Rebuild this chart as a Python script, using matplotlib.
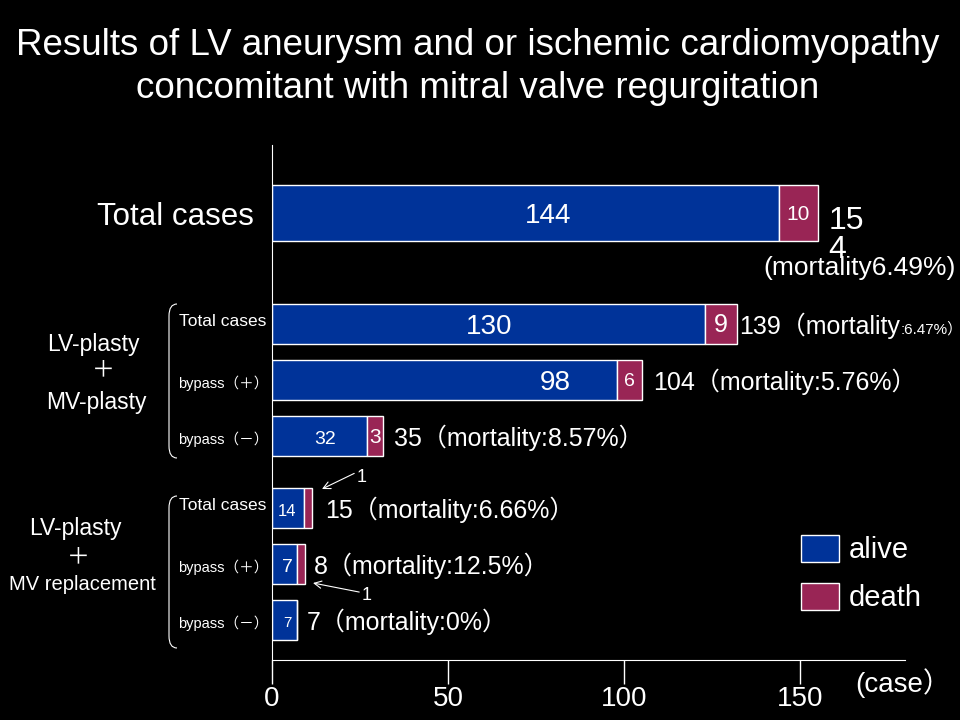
import numpy as np
import matplotlib.pyplot as plt
from matplotlib.transforms import Affine2D
from matplotlib.path import Path
from matplotlib.patches import PathPatch, Patch

plt.rcParams['font.family'] = ['Liberation Sans', 'Noto Sans CJK JP', 'DejaVu Sans']

# bar lengths as they are drawn in the picture (cases)
alive = [144, 123, 98, 27, 9, 7, 7]
death = [11, 9, 7, 4.5, 2.5, 2.5, 0]
# numbers written on the bars
alive_txt = ['144', '130', '98', '32', '14', '7', '7']
death_txt = ['10', '9', '6', '3', '', '', '']
# text on the right of each bar
right_txt = ['', '139（mortality', '104（mortality:5.76%）', '35（mortality:8.57%）',
             '15（mortality:6.66%）', '8（mortality:12.5%）', '7（mortality:0%）']
row_names = ['Total cases', 'Total cases', 'bypass（＋）', 'bypass（－）',
             'Total cases', 'bypass（＋）', 'bypass（－）']
x_ticks = [0, 50, 100, 150]

blue = '#003399'
red = '#992555'

# layout (image pixels)
row_y = [213, 324, 380, 436, 508, 564, 620]
row_h = [56, 40, 40, 40, 40, 40, 40]
alive_lab_x = [548, 489, 555, 325, 287, 287, 287]
alive_fs = [20, 20, 20, 14, 12, 14, 11]
death_fs = [15, 18, 14, 15, 10, 10, 10]
right_off = [8, 2, 8, 8, 9, 6, 7]

fig = plt.figure(figsize=(9.6, 7.2), dpi=100, facecolor='black')
px = Affine2D().scale(1, -1).translate(0, 720)  # image pixels -> display

ax = fig.add_axes([272/960, 60/720, 633/960, 515/720])
ax.set_facecolor('black')
ax.set_xlim(0, 633/3.52)
ax.set_ylim(660, 145)

ax.barh(row_y, alive, height=row_h, color=blue, edgecolor='white', linewidth=1)
ax.barh(row_y, death, left=alive, height=row_h, color=red, edgecolor='white', linewidth=1)

for i in range(len(row_y)):
    x_data = (alive_lab_x[i] - 272) / 3.52
    ax.text(x_data, row_y[i] + 3, alive_txt[i], color='white', fontsize=alive_fs[i],
            ha='center', va='center')
    if death_txt[i]:
        ax.text(alive[i] + death[i]/2, row_y[i] + 1, death_txt[i], color='white',
                fontsize=death_fs[i], ha='center', va='center')
    if right_txt[i]:
        t = ax.annotate(right_txt[i], xy=(alive[i] + death[i], row_y[i]),
                        xytext=(right_off[i], -1), textcoords='offset points',
                        color='white', fontsize=18, ha='left', va='center')
        if i == 1:
            ax.annotate(':6.47%）', xy=(1, 0.08), xycoords=t, color='white',
                        fontsize=11, ha='left', va='bottom')

# first row total, wrapped like in the slide
ax.annotate('15\n4', xy=(alive[0] + death[0], row_y[0]), xytext=(8, 5),
            textcoords='offset points', color='white', fontsize=23,
            ha='left', va='top', linespacing=0.95)
fig.text(860, 268, '(mortality6.49%)', transform=px, color='white', fontsize=19,
         ha='center', va='center')

# row labels on the left
fig.text(254, 217, row_names[0], transform=px, color='white', fontsize=22.5,
         ha='right', va='center')
for i in range(1, 7):
    if row_names[i] == 'Total cases':
        fig.text(266, row_y[i] - 3, row_names[i], transform=px, color='white',
                 fontsize=12.5, ha='right', va='center')
    else:
        fig.text(178, row_y[i] + 3, row_names[i], transform=px, color='white',
                 fontsize=10.5, ha='left', va='center')

# group labels
fig.text(93, 344, 'LV-plasty', transform=px, color='white', fontsize=16.5, ha='center', va='center')
fig.text(103, 370, '＋', transform=px, color='white', fontsize=16.5, ha='center', va='center')
fig.text(96, 402, 'MV-plasty', transform=px, color='white', fontsize=16.5, ha='center', va='center')
fig.text(75, 528, 'LV-plasty', transform=px, color='white', fontsize=16.5, ha='center', va='center')
fig.text(78, 557, '＋', transform=px, color='white', fontsize=16.5, ha='center', va='center')
fig.text(82, 584, 'MV replacement', transform=px, color='white', fontsize=14.5, ha='center', va='center')

# brackets
for top, bot in [(304, 458), (496, 648)]:
    verts = [(177, top), (169, top), (169, top + 12), (169, bot - 12), (169, bot), (177, bot)]
    codes = [Path.MOVETO, Path.CURVE3, Path.CURVE3, Path.LINETO, Path.CURVE3, Path.CURVE3]
    fig.patches.append(PathPatch(Path(verts, codes), transform=px, fill=False,
                                 edgecolor='white', lw=0.8))

# death count arrows
arrow = dict(arrowstyle='->', color='white', lw=0.8, shrinkA=0, shrinkB=0)
ax.annotate('1', xy=(322, 489), xycoords=px, xytext=(362, 478), textcoords=px,
            color='white', fontsize=13, ha='center', va='center',
            arrowprops=dict(arrow, relpos=(0, 0.85)))
ax.annotate('1', xy=(313, 583), xycoords=px, xytext=(367, 596), textcoords=px,
            color='white', fontsize=13, ha='center', va='center',
            arrowprops=dict(arrow, relpos=(0, 0.7)))

# title
fig.text(478, 67, 'Results of LV aneurysm and or ischemic cardiomyopathy\n'
         'concomitant with mitral valve regurgitation', transform=px,
         color='white', fontsize=26.5, ha='center', va='center', linespacing=1.28)

# axes styling
for s in ['top', 'right']:
    ax.spines[s].set_visible(False)
ax.spines['left'].set_color('white')
ax.spines['bottom'].set_color('white')
ax.set_yticks([])
ax.set_xticks(x_ticks)
ax.tick_params(axis='x', colors='white', length=17, width=1, labelsize=20, pad=2)
fig.text(903, 683, '(case）', transform=px, color='white', fontsize=20,
         ha='center', va='center')

handles = [Patch(facecolor=blue, edgecolor='white', label='alive'),
           Patch(facecolor=red, edgecolor='white', label='death')]
fig.legend(handles=handles, loc='upper left', bbox_to_anchor=(801/960, 1 - 535/720),
           frameon=False, fontsize=21, labelcolor='white', handlelength=1.3,
           handleheight=1.05, labelspacing=0.62, handletextpad=0.35,
           borderpad=0, borderaxespad=0)

fig.savefig('out.png', dpi=100, facecolor='black')
